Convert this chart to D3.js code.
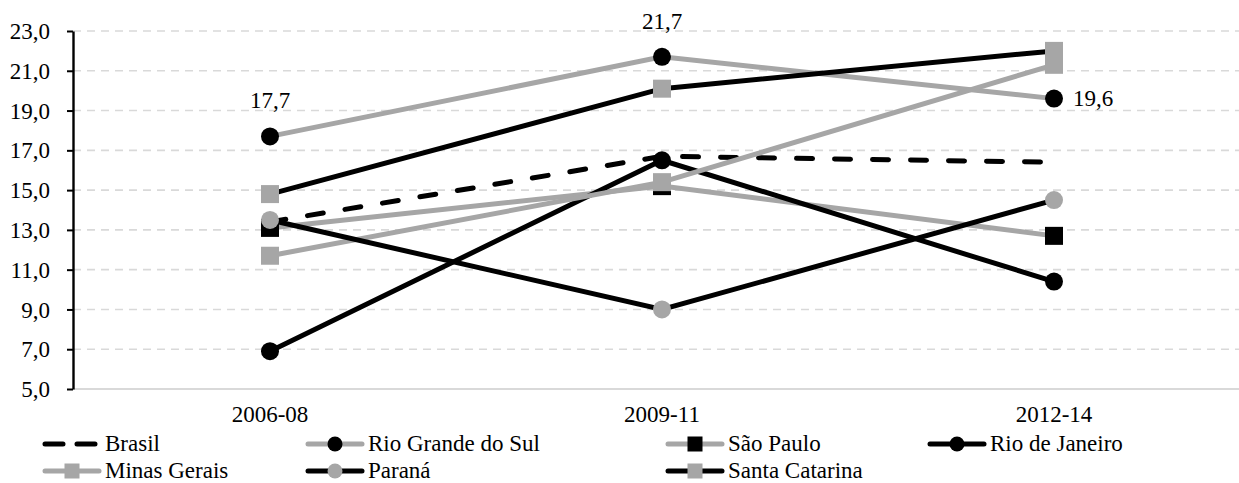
<!DOCTYPE html>
<html>
<head>
<meta charset="utf-8">
<script src="https://cdn.jsdelivr.net/npm/d3@7.9.0/dist/d3.min.js"></script>
</head>
<body style="margin:0">
<svg id="chart" width="1239" height="483" font-family="Liberation Serif"></svg>
<script>
const periods = ["2006-08", "2009-11", "2012-14"];
const yTicks = [5, 7, 9, 11, 13, 15, 17, 19, 21, 23];

const brasil = [13.4, 16.7, 16.4];
const rioGrandeDoSul = [17.7, 21.7, 19.6];
const saoPaulo = [13.1, 15.2, 12.7];
const rioDeJaneiro = [6.9, 16.5, 10.4];
const minasGerais = [11.7, 15.4, 21.3];
const parana = [13.5, 9.0, 14.5];
const santaCatarina = [14.8, 20.1, 22.0];

const BLACK = "#000", GRAY = "#a6a6a6";
const FS = 23;

// line colour, marker shape, marker colour, dashed?
const series = [
  { name: "Brasil", values: brasil, line: BLACK, marker: null, mcolor: null, dash: true },
  { name: "Rio Grande do Sul", values: rioGrandeDoSul, line: GRAY, marker: "circle", mcolor: BLACK },
  { name: "São Paulo", values: saoPaulo, line: GRAY, marker: "square", mcolor: BLACK },
  { name: "Rio de Janeiro", values: rioDeJaneiro, line: BLACK, marker: "circle", mcolor: BLACK },
  { name: "Minas Gerais", values: minasGerais, line: GRAY, marker: "square", mcolor: GRAY },
  { name: "Paraná", values: parana, line: BLACK, marker: "circle", mcolor: GRAY },
  { name: "Santa Catarina", values: santaCatarina, line: BLACK, marker: "square", mcolor: GRAY }
];

const fmt = v => d3.format(".1f")(v).replace(".", ",");

const svg = d3.select("#chart");
const plotLeft = 73, plotRight = 1239, plotTop = 31, plotBottom = 389;

const x = d3.scaleBand().domain(periods).range([plotLeft + 1, plotLeft + 1 + 392 * 3]).paddingInner(0);
const cx = p => x(p) + x.bandwidth() / 2;
const y = d3.scaleLinear().domain([5, 23]).range([plotBottom, plotTop]);

function txt(sel) {
  return sel.style("font-family", () => `"Liberation Serif"`).attr("font-size", FS).attr("fill", "#000");
}

// gridlines
svg.append("g")
  .selectAll("line")
  .data(yTicks.filter(t => t > 5))
  .join("line")
  .attr("x1", plotLeft).attr("x2", plotRight)
  .attr("y1", d => y(d)).attr("y2", d => y(d))
  .attr("stroke", "#d9d9d9").attr("stroke-width", 1.6)
  .attr("stroke-dasharray", "8,6");

// x axis baseline
svg.append("line")
  .attr("x1", plotLeft).attr("x2", plotRight)
  .attr("y1", plotBottom).attr("y2", plotBottom)
  .attr("stroke", "#d9d9d9").attr("stroke-width", 2);

// y axis
const yAxis = svg.append("g")
  .attr("transform", `translate(${plotLeft},0)`)
  .call(d3.axisLeft(y).tickValues(yTicks).tickFormat(fmt).tickSize(6).tickSizeOuter(0));
yAxis.attr("font-family", "Liberation Serif").attr("font-size", FS);
yAxis.select(".domain").attr("stroke", "#000").attr("stroke-width", 2.4);
yAxis.selectAll(".tick line").attr("stroke", "#000").attr("stroke-width", 2);
yAxis.selectAll(".tick text").attr("x", -23).attr("dy", "0.33em").call(txt);

// x labels
svg.append("g")
  .selectAll("text")
  .data(periods)
  .join("text")
  .attr("x", d => cx(d)).attr("y", 422)
  .attr("text-anchor", "middle")
  .text(d => d)
  .call(txt);

const lineGen = d3.line().x((d, i) => cx(periods[i])).y(d => y(d));

function drawMarker(g, shape, color, px, py, size) {
  if (shape === "circle") {
    g.append("circle").attr("cx", px).attr("cy", py).attr("r", size / 2).attr("fill", color);
  } else if (shape === "square") {
    g.append("rect").attr("x", px - size / 2).attr("y", py - size / 2)
      .attr("width", size).attr("height", size).attr("fill", color);
  }
}

series.forEach(s => {
  const g = svg.append("g");
  g.append("path")
    .datum(s.values)
    .attr("d", lineGen)
    .attr("fill", "none")
    .attr("stroke", s.line)
    .attr("stroke-width", 5)
    .attr("stroke-linecap", "round")
    .attr("stroke-dasharray", s.dash ? "16,22" : null);
  s.values.forEach((v, i) => drawMarker(g, s.marker, s.mcolor, cx(periods[i]), y(v), 18));
});

// data labels on Rio Grande do Sul
const lab = svg.append("g");
lab.append("text").attr("x", cx(periods[0])).attr("y", y(rioGrandeDoSul[0]) - 28)
  .attr("text-anchor", "middle").text(fmt(rioGrandeDoSul[0])).call(txt);
lab.append("text").attr("x", cx(periods[1])).attr("y", y(rioGrandeDoSul[1]) - 28)
  .attr("text-anchor", "middle").text(fmt(rioGrandeDoSul[1])).call(txt);
lab.append("text").attr("x", cx(periods[2]) + 19).attr("y", y(rioGrandeDoSul[2]) + 7)
  .attr("text-anchor", "start").text(fmt(rioGrandeDoSul[2])).call(txt);

// legend
const legCols = [42, 305, 665, 927];
const legRows = [444, 471];
series.forEach((s, i) => {
  const lx = legCols[i % 4], ly = legRows[Math.floor(i / 4)];
  const g = svg.append("g");
  if (s.dash) {
    g.append("line").attr("x1", lx + 3).attr("x2", lx + 55).attr("y1", ly).attr("y2", ly)
      .attr("stroke", s.line).attr("stroke-width", 5).attr("stroke-linecap", "round")
      .attr("stroke-dasharray", "18,14");
  } else {
    g.append("line").attr("x1", lx + 3).attr("x2", lx + 57).attr("y1", ly).attr("y2", ly)
      .attr("stroke", s.line).attr("stroke-width", 5).attr("stroke-linecap", "round");
    drawMarker(g, s.marker, s.mcolor, lx + 30, ly, 15);
  }
  g.append("text").attr("x", lx + 63).attr("y", ly + 7)
    .text(s.name).call(txt);
});
</script>
</body>
</html>
